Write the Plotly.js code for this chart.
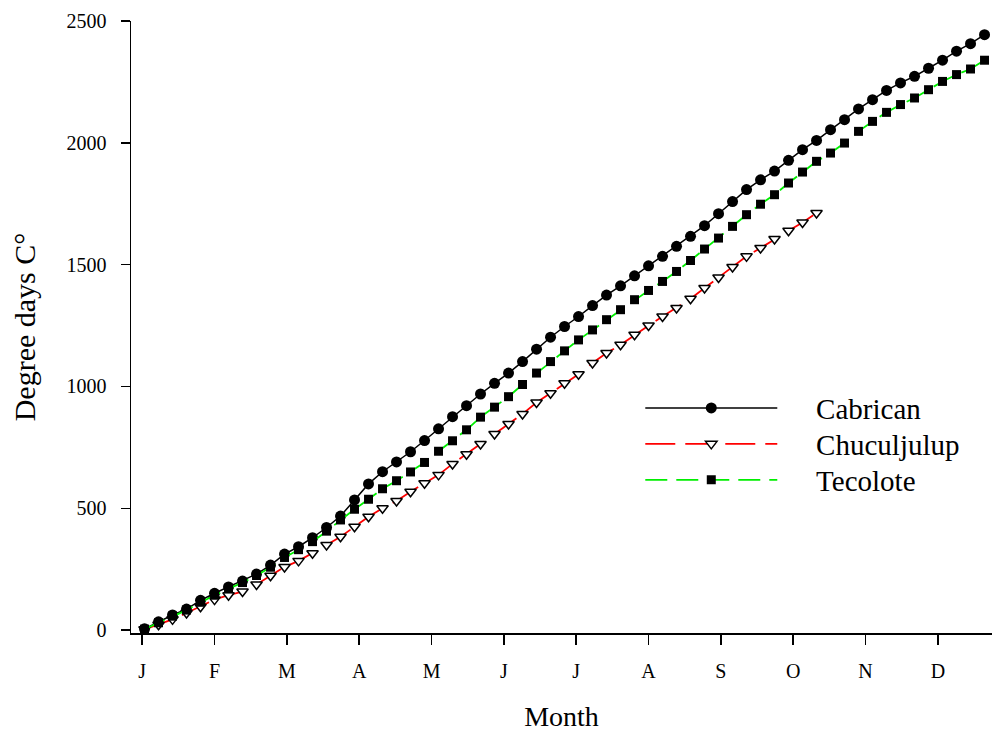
<!DOCTYPE html>
<html>
<head>
<meta charset="utf-8">
<script src="https://cdn.plot.ly/plotly-3.0.1.min.js"></script>
<style>
  html, body { margin: 0; padding: 0; background: #fff; }
  #chart { width: 992px; height: 732px; }
</style>
</head>
<body>
<div id="chart"></div>
<script>
// Day of year of each observation (every 6 days)
const days = [1, 7, 13, 19, 25, 31, 37, 43, 49, 55, 61, 67, 73, 79, 85, 91, 97, 103, 109, 115,
  121, 127, 133, 139, 145, 151, 157, 163, 169, 175, 181, 187, 193, 199, 205, 211, 217, 223, 229, 235,
  241, 247, 253, 259, 265, 271, 277, 283, 289, 295, 301, 307, 313, 319, 325, 331, 337, 343, 349, 355, 361];

const cabrican = [5, 34, 62, 86, 122, 151, 177, 201, 230, 267, 312, 342, 379, 421, 468, 534, 600, 650, 690, 732,
  778, 826, 876, 921, 969, 1013, 1055, 1102, 1153, 1202, 1246, 1287, 1332, 1375, 1413, 1454, 1495, 1534, 1575, 1616,
  1660, 1709, 1759, 1808, 1848, 1884, 1928, 1972, 2010, 2054, 2095, 2139, 2177, 2215, 2246, 2273, 2306, 2339, 2376, 2407, 2444];

const chuculjulup = [3, 22, 44, 70, 96, 125, 143, 158, 187, 223, 259, 284, 315, 349, 383, 424, 465, 500, 530, 568,
  603, 637, 682, 722, 764, 805, 846, 887, 934, 972, 1013, 1050, 1096, 1137, 1171, 1212, 1250, 1287, 1322, 1360,
  1404, 1447, 1490, 1534, 1568, 1605, 1639, 1673, 1712];

const tecolote = [4, 30, 57, 82, 114, 143, 170, 195, 224, 258, 298, 330, 363, 406, 452, 496, 537, 580, 613, 649,
  688, 734, 777, 822, 874, 915, 958, 1008, 1055, 1102, 1146, 1191, 1232, 1274, 1315, 1356, 1394, 1431, 1472, 1517,
  1564, 1609, 1657, 1705, 1748, 1787, 1835, 1880, 1924, 1958, 1999, 2047, 2088, 2125, 2157, 2184, 2218, 2252, 2280, 2303, 2339];

const seriesNames = ["Cabrican", "Chuculjulup", "Tecolote"];
const monthTickDays = [0, 31, 62, 93, 124, 155, 186, 217, 248, 279, 310, 341];
const monthLabels = ["J", "F", "M", "A", "M", "J", "J", "A", "S", "O", "N", "D"];
const yTicks = [0, 500, 1000, 1500, 2000, 2500];

const FONT = "Liberation Serif, Times New Roman, serif";
// wide gap between legend symbol and its label (em space + six-per-em space)
const GAP = "\u2003\u2006";

const traces = [
  {
    x: days, y: cabrican, name: GAP + seriesNames[0], legend: "legend",
    type: "scatter", mode: "lines+markers",
    line: { color: "#000000", width: 1.5 },
    marker: { symbol: "circle", size: 11, color: "#000000" }
  },
  {
    x: days.slice(0, chuculjulup.length), y: chuculjulup, name: GAP + seriesNames[1], legend: "legend2",
    type: "scatter", mode: "lines+markers",
    line: { color: "#ff0000", width: 1.8, dash: "30px,10px" },
    marker: { symbol: "triangle-down", size: 10, color: "#ffffff", line: { color: "#000000", width: 1.5 } }
  },
  {
    x: days, y: tecolote, name: GAP + seriesNames[2], legend: "legend3",
    type: "scatter", mode: "lines+markers",
    line: { color: "#00ee00", width: 1.8, dash: "22px,9px" },
    marker: { symbol: "square", size: 9, color: "#000000" }
  }
];

function legendBox(yc) {
  return {
    x: 0.5915, y: yc, xanchor: "left", yanchor: "middle",
    bgcolor: "rgba(0,0,0,0)", borderwidth: 0,
    font: { family: FONT, size: 29, color: "#000000" },
    itemwidth: 132
  };
}

const layout = {
  width: 992, height: 732,
  paper_bgcolor: "#ffffff", plot_bgcolor: "#ffffff",
  margin: { l: 131, r: 0, t: 21, b: 99, pad: 0 },
  font: { family: FONT, color: "#000000", size: 20 },
  showlegend: true,
  legend: legendBox(0.3676),
  legend2: legendBox(0.3088),
  legend3: legendBox(0.2500),
  xaxis: {
    range: [-4.8, 364.2],
    tickmode: "array", tickvals: monthTickDays, ticktext: monthLabels,
    ticks: "outside", ticklen: 10, tickwidth: 1.5, tickcolor: "#000",
    showline: true, linecolor: "#000", linewidth: 1.5,
    showgrid: false, zeroline: false,
    tickfont: { family: FONT, size: 20 },
    ticklabelstandoff: 9,
    title: { text: "Month", font: { family: FONT, size: 28 }, standoff: 30 }
  },
  yaxis: {
    range: [-12, 2500],
    tickmode: "array", tickvals: yTicks,
    ticks: "outside", ticklen: 9, tickwidth: 1.5, tickcolor: "#000",
    showline: true, linecolor: "#000", linewidth: 1.5,
    showgrid: false, zeroline: false,
    tickfont: { family: FONT, size: 20 },
    ticklabelstandoff: 10,
    title: { text: "Degree days C°", font: { family: FONT, size: 30 }, standoff: 22 }
  }
};

Plotly.newPlot("chart", traces, layout, { staticPlot: true, displayModeBar: false });
</script>
</body>
</html>
